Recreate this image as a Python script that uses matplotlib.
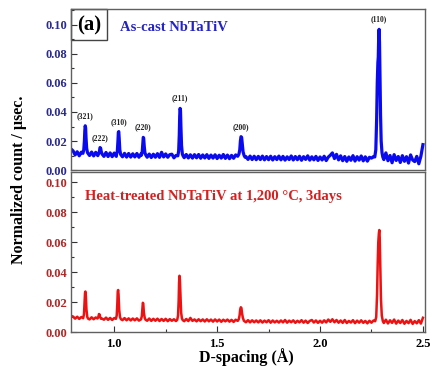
import numpy as np
import matplotlib
matplotlib.use('Agg')
import matplotlib.pyplot as plt
from matplotlib.patches import Rectangle
from matplotlib.ticker import MultipleLocator

plt.rcParams['font.family'] = ['Liberation Serif', 'DejaVu Serif']
plt.rcParams['font.weight'] = 'bold'

# background scan grid (Å); intensities below are in 1e-3 counts / µs
d_grid = np.round(np.arange(0.79, 2.505, 0.01), 3)

ascast_base = [
    14.5,
    13.2, 10.4, 12.6, 9.8, 12.3, 10.1, 11.9, 12.4, 10.0, 12.4,
    9.7, 12.2, 9.9, 12.0, 11.0, 9.4, 12.1, 9.3, 11.8, 9.2,
    11.7, 9.4, 10.6, 11.4, 9.1, 11.5, 8.9, 11.4, 8.9, 11.2,
    9.0, 11.4, 8.8, 11.1, 10.1, 10.6, 8.8, 11.0, 8.6, 10.9,
    8.8, 11.3, 8.7, 12.2, 9.0, 11.1, 8.8, 10.6, 10.9, 8.4,
    10.0, 9.4, 9.7, 9.9, 8.5, 10.7, 8.3, 10.5, 8.2, 10.6,
    8.4, 10.7, 8.1, 10.4, 8.3, 10.6, 8.0, 10.3, 8.2, 10.5,
    7.9, 10.2, 8.2, 10.7, 8.0, 10.3, 7.8, 10.1, 8.1, 10.4,
    9.1, 9.0, 9.2, 8.6, 9.2, 7.3, 9.6, 7.2, 9.5, 7.1,
    9.4, 7.2, 9.6, 7.0, 9.3, 7.1, 9.5, 6.9, 9.2, 7.2,
    9.6, 7.0, 9.4, 6.8, 9.1, 7.2, 9.7, 6.9, 9.3, 7.1,
    9.5, 6.7, 9.2, 7.3, 9.8, 6.8, 9.1, 7.0, 9.4, 6.6,
    9.0, 6.9, 9.5, 6.5, 8.9, 10.2, 11.8, 7.9, 10.8, 7.0,
    9.8, 6.4, 9.3, 6.0, 9.0, 6.7, 9.9, 6.2, 9.2, 6.8,
    9.7, 6.3, 9.1, 6.1, 8.8, 8.2, 9.3, 9.0, 9.0, 9.0,
    9.5, 7.2, 11.8, 6.4, 10.0, 5.0, 10.6, 6.6, 9.3, 5.2,
    9.9, 6.0, 9.2, 4.8, 10.4, 6.9, 5.8, 9.4, 4.3, 9.5,
    17.5,
]

heat_base = [
    10.8,
    10.3, 8.9, 10.2, 8.7, 10.0, 8.6, 9.2, 9.0, 8.4, 9.8,
    8.5, 9.7, 8.3, 9.0, 9.0, 8.2, 9.6, 8.1, 9.4, 8.0,
    9.3, 8.1, 8.6, 8.8, 7.9, 9.3, 7.8, 9.1, 7.7, 9.0,
    7.8, 9.1, 7.6, 8.9, 8.3, 8.3, 7.5, 9.0, 7.4, 8.8,
    7.5, 8.9, 7.3, 8.7, 7.4, 8.8, 7.2, 8.6, 7.5, 8.5,
    7.3, 8.6, 8.0, 8.0, 7.2, 8.7, 7.3, 9.4, 7.4, 8.4,
    7.1, 8.5, 7.2, 8.4, 7.0, 8.5, 7.1, 8.3, 6.9, 8.4,
    7.0, 8.3, 6.8, 8.2, 7.1, 8.3, 6.9, 8.1, 6.7, 8.2,
    7.4, 7.4, 7.4, 7.7, 6.5, 7.9, 6.4, 7.8, 6.5, 7.7,
    6.4, 7.8, 6.3, 7.6, 6.5, 7.9, 6.2, 7.7, 6.4, 7.5,
    6.3, 7.7, 6.4, 8.0, 6.2, 7.6, 6.5, 7.8, 6.1, 7.5,
    6.4, 7.9, 6.2, 7.6, 6.0, 7.4, 8.0, 6.3, 7.7, 6.1,
    7.5, 6.2, 7.8, 6.4, 8.3, 6.8, 8.5, 6.5, 8.0, 6.2,
    7.7, 6.1, 8.0, 6.0, 7.4, 6.3, 7.9, 5.9, 7.6, 6.2,
    7.8, 6.1, 7.4, 5.8, 7.5, 6.2, 7.7, 7.2, 7.2, 7.2,
    7.5, 6.0, 8.2, 5.7, 7.8, 6.1, 8.3, 5.6, 7.6, 6.0,
    8.0, 5.5, 7.4, 5.9, 8.1, 5.4, 7.3, 5.8, 7.9, 5.6,
    9.5,
]

hkl = ['(321)', '(222)', '(310)', '(220)', '(211)', '(200)', '(110)']

# Bragg peaks, as-cast
ascast_pk_d = [
    [0.848, 0.852, 0.855, 0.857, 0.859, 0.861, 0.863, 0.866, 0.870],
    [0.924, 0.928, 0.931, 0.934, 0.937, 0.941],
    [1.011, 1.015, 1.018, 1.020, 1.022, 1.024, 1.027, 1.031],
    [1.132, 1.136, 1.139, 1.141, 1.143, 1.146, 1.149, 1.153],
    [1.309, 1.313, 1.316, 1.318, 1.320, 1.322, 1.324, 1.327, 1.331, 1.335],
    [1.600, 1.606, 1.610, 1.613, 1.616, 1.619, 1.622, 1.626, 1.631, 1.636],
    [2.266, 2.271, 2.275, 2.278, 2.281, 2.283, 2.285, 2.287, 2.289, 2.291,
     2.294, 2.297, 2.301, 2.305],
]
ascast_pk_i = [
    [11.5, 14.0, 20.0, 27.0, 30.5, 29.0, 22.0, 15.0, 12.0],
    [11.2, 12.8, 15.5, 15.0, 12.6, 11.0],
    [10.6, 13.0, 20.0, 26.0, 26.5, 22.0, 14.0, 10.8],
    [10.2, 12.5, 18.0, 22.5, 22.0, 16.0, 12.0, 10.4],
    [9.8, 13.0, 24.0, 37.0, 42.5, 41.0, 30.0, 17.0, 11.0, 9.6],
    [9.5, 11.0, 14.0, 20.0, 23.0, 22.5, 18.0, 12.5, 10.0, 8.8],
    [9.0, 14.0, 35.0, 60.0, 74.0, 78.0, 92.0, 97.0, 88.0, 66.0,
     38.0, 20.0, 12.0, 9.0],
]

# Bragg peaks, heat-treated
heat_pk_d = [
    [0.849, 0.853, 0.856, 0.858, 0.860, 0.862, 0.865, 0.869, 0.873],
    [0.919, 0.923, 0.926, 0.929, 0.932, 0.936],
    [1.008, 1.012, 1.015, 1.017, 1.019, 1.021, 1.024, 1.028, 1.032],
    [1.130, 1.134, 1.137, 1.139, 1.141, 1.144, 1.148, 1.152],
    [1.306, 1.310, 1.313, 1.315, 1.317, 1.319, 1.322, 1.325, 1.329, 1.333],
    [1.600, 1.605, 1.609, 1.612, 1.615, 1.618, 1.621, 1.625, 1.630],
    [2.268, 2.273, 2.277, 2.280, 2.283, 2.286, 2.288, 2.290, 2.293, 2.296,
     2.300, 2.305],
]
heat_pk_i = [
    [9.2, 12.0, 20.0, 26.0, 27.0, 24.0, 15.0, 10.0, 8.9],
    [9.0, 10.2, 12.0, 11.6, 9.8, 8.8],
    [8.8, 11.0, 19.0, 27.0, 28.0, 25.0, 15.0, 10.0, 8.6],
    [8.4, 10.5, 16.0, 19.5, 19.0, 13.0, 9.5, 8.2],
    [8.1, 11.0, 21.0, 33.0, 37.5, 35.0, 23.0, 13.0, 9.0, 7.9],
    [7.4, 8.5, 11.0, 15.0, 16.5, 16.0, 12.5, 9.5, 7.5],
    [7.2, 10.0, 25.0, 45.0, 60.0, 66.0, 68.0, 63.0, 42.0, 22.0,
     11.0, 7.3],
]


def build_trace(base, pk_d, pk_i):
    """Splice the peak profiles into the background scan."""
    base = np.asarray(base)
    keep = np.ones(len(d_grid), dtype=bool)
    for seg in pk_d:
        keep &= ~((d_grid >= min(seg)) & (d_grid <= max(seg)))
    d = np.concatenate([d_grid[keep]] + [np.asarray(s) for s in pk_d])
    y = np.concatenate([base[keep]] + [np.asarray(s) for s in pk_i])
    order = np.argsort(d)
    return d[order], y[order] * 1e-3


def style_axis(ax, ylim, tick_color):
    ax.set_xlim(0.79, 2.51)
    ax.set_ylim(*ylim)
    ax.xaxis.set_major_locator(MultipleLocator(0.5))
    ax.xaxis.set_minor_locator(MultipleLocator(0.25))
    ax.yaxis.set_major_locator(MultipleLocator(0.02))
    ax.yaxis.set_minor_locator(MultipleLocator(0.01))
    ax.yaxis.set_major_formatter('{x:.2f}')
    ax.tick_params(which='both', direction='in', color='#333333', width=0.8)
    ax.tick_params(which='major', length=4)
    ax.tick_params(which='minor', length=2.2)
    ax.tick_params(axis='y', labelsize=9, labelcolor=tick_color, pad=3)
    ax.tick_params(axis='x', labelsize=9, pad=4)
    for sp in ax.spines.values():
        sp.set_color('#606060')
        sp.set_linewidth(1.0)


fig = plt.figure(figsize=(4.32, 3.68), dpi=100)
ax1 = fig.add_axes([0.1644, 0.5380, 0.8194, 0.4375])
ax2 = fig.add_axes([0.1644, 0.0978, 0.8194, 0.4348])

d1, y1 = build_trace(ascast_base, ascast_pk_d, ascast_pk_i)
d2, y2 = build_trace(heat_base, heat_pk_d, heat_pk_i)

ax1.plot(d1, y1, color='#0a0af0', lw=2.3, solid_joinstyle='round')
ax2.plot(d2, y2, color='#ee1111', lw=1.8, solid_joinstyle='round')

style_axis(ax1, (0, 0.111), '#2a2a90')
style_axis(ax2, (0, 0.1067), '#b02828')
ax1.tick_params(axis='x', which='both', bottom=False, labelbottom=False)

# Miller indices above each peak maximum
for name, seg_d, seg_i in zip(hkl, ascast_pk_d, ascast_pk_i):
    k = int(np.argmax(seg_i))
    ax1.annotate(name, (seg_d[k], seg_i[k] * 1e-3), xytext=(0, 7),
                 textcoords='offset points', ha='center', va='center',
                 fontsize=5.5, color='#222222')

# panel tag in its little box
ax1.add_patch(Rectangle((0, 0.807), 0.102, 0.193, transform=ax1.transAxes,
                        fill=False, edgecolor='#444444', lw=1.0, clip_on=False))
ax1.text(0.051, 0.900, '(a)', transform=ax1.transAxes, ha='center',
         va='center', fontsize=15, color='black')

ax1.text(0.138, 0.888, 'As-cast NbTaTiV', transform=ax1.transAxes,
         ha='left', va='center', fontsize=10.5, color='#2323c8')
ax2.text(0.0395, 0.850, 'Heat-treated NbTaTiV at 1,200 °C, 3days',
         transform=ax2.transAxes, ha='left', va='center', fontsize=10.5,
         color='#d42020')

fig.text(0.045, 0.512, 'Normalized count / µsec.', rotation=90,
         ha='center', va='center', fontsize=11.5, color='black')
fig.text(0.571, 0.016, 'D-spacing (Å)', ha='center', va='baseline',
         fontsize=11.5, color='black')

fig.savefig('out.png', dpi=100)
